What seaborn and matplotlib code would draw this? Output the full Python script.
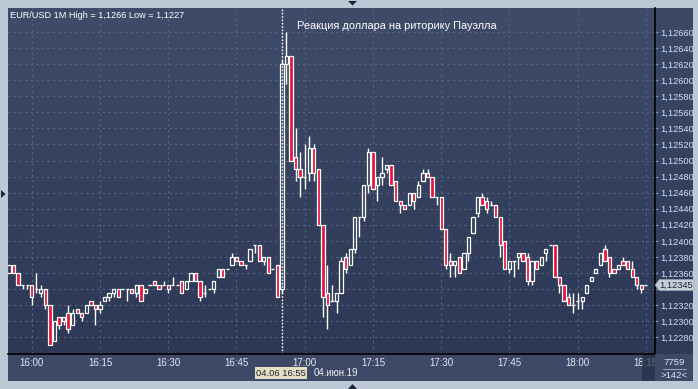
import numpy as np
import pandas as pd
import matplotlib
matplotlib.use("Agg")
import matplotlib.pyplot as plt
import seaborn as sns
from matplotlib.colors import LinearSegmentedColormap
from matplotlib.patches import Rectangle, Polygon

sns.set_theme(style="dark")
plt.rcParams['font.family'] = ['Liberation Sans', 'DejaVu Sans']

# ---------------- data ----------------
times = list(pd.date_range('2019-06-04 15:55', periods=141, freq='min').strftime('%H:%M'))

opens = [
 1.12360,1.12370,1.12360,1.12345,1.12345,1.12345,1.12340,1.12335,1.12340,1.12320,
 1.12275,1.12305,1.12300,1.12310,1.12295,1.12315,1.12310,1.12310,1.12325,1.12320,
 1.12315,1.12325,1.12330,1.12335,1.12340,1.12340,1.12340,1.12340,1.12335,1.12345,
 1.12335,1.12345,1.12350,1.12345,1.12345,1.12345,1.12345,1.12345,1.12350,1.12340,
 1.12350,1.12360,1.12350,1.12335,1.12340,1.12340,1.12355,1.12365,1.12365,1.12370,
 1.12380,1.12375,1.12370,1.12375,1.12395,1.12395,1.12375,1.12380,1.12365,1.12370,
 1.12340,1.12620,1.12630,1.12505,1.12490,1.12480,1.12485,1.12515,1.12490,1.12420,
 1.12335,1.12325,1.12325,1.12335,1.12380,1.12370,1.12390,1.12430,1.12430,1.12470,
 1.12510,1.12470,1.12480,1.12490,1.12495,1.12475,1.12450,1.12445,1.12445,1.12460,
 1.12455,1.12475,1.12485,1.12480,1.12455,1.12455,1.12415,1.12375,1.12370,1.12380,
 1.12365,1.12385,1.12410,1.12435,1.12455,1.12450,1.12445,1.12445,1.12430,1.12400,
 1.12365,1.12375,1.12380,1.12385,1.12380,1.12350,1.12375,1.12370,1.12385,1.12395,
 1.12395,1.12355,1.12345,1.12330,1.12320,1.12325,1.12325,1.12335,1.12350,1.12360,
 1.12370,1.12390,1.12380,1.12365,1.12365,1.12375,1.12375,1.12365,1.12355,1.12345,
 1.12345]

highs = [
 1.12370,1.12370,1.12360,1.12345,1.12345,1.12345,1.12360,1.12345,1.12340,1.12320,
 1.12300,1.12305,1.12305,1.12320,1.12315,1.12315,1.12310,1.12320,1.12325,1.12320,
 1.12325,1.12330,1.12335,1.12340,1.12340,1.12340,1.12340,1.12340,1.12345,1.12345,
 1.12340,1.12345,1.12350,1.12345,1.12350,1.12345,1.12355,1.12345,1.12350,1.12350,
 1.12360,1.12360,1.12350,1.12345,1.12340,1.12350,1.12365,1.12365,1.12365,1.12385,
 1.12380,1.12375,1.12370,1.12390,1.12395,1.12395,1.12380,1.12380,1.12365,1.12370,
 1.12625,1.12660,1.12630,1.12540,1.12510,1.12520,1.12530,1.12520,1.12490,1.12420,
 1.12370,1.12345,1.12335,1.12380,1.12385,1.12390,1.12430,1.12430,1.12470,1.12515,
 1.12510,1.12480,1.12505,1.12495,1.12495,1.12475,1.12450,1.12445,1.12460,1.12460,
 1.12475,1.12490,1.12490,1.12480,1.12455,1.12455,1.12415,1.12385,1.12375,1.12380,
 1.12385,1.12405,1.12430,1.12455,1.12460,1.12455,1.12450,1.12445,1.12430,1.12400,
 1.12375,1.12375,1.12385,1.12385,1.12385,1.12375,1.12375,1.12380,1.12390,1.12395,
 1.12395,1.12355,1.12345,1.12335,1.12335,1.12335,1.12330,1.12345,1.12355,1.12365,
 1.12385,1.12395,1.12380,1.12365,1.12370,1.12380,1.12375,1.12375,1.12355,1.12345,
 1.12345]

lows = [
 1.12360,1.12360,1.12345,1.12340,1.12340,1.12320,1.12335,1.12330,1.12315,1.12270,
 1.12275,1.12290,1.12295,1.12285,1.12295,1.12310,1.12300,1.12310,1.12320,1.12295,
 1.12310,1.12325,1.12325,1.12330,1.12330,1.12340,1.12325,1.12335,1.12330,1.12325,
 1.12335,1.12345,1.12345,1.12340,1.12345,1.12335,1.12345,1.12345,1.12335,1.12340,
 1.12350,1.12350,1.12325,1.12330,1.12340,1.12335,1.12355,1.12355,1.12365,1.12370,
 1.12375,1.12370,1.12365,1.12375,1.12385,1.12375,1.12370,1.12360,1.12365,1.12330,
 1.12335,1.12595,1.12500,1.12475,1.12455,1.12465,1.12475,1.12475,1.12420,1.12305,
 1.12290,1.12325,1.12310,1.12335,1.12360,1.12370,1.12385,1.12405,1.12425,1.12460,
 1.12465,1.12450,1.12470,1.12485,1.12470,1.12450,1.12435,1.12440,1.12445,1.12440,
 1.12455,1.12475,1.12480,1.12455,1.12445,1.12415,1.12365,1.12355,1.12355,1.12360,
 1.12365,1.12375,1.12410,1.12430,1.12445,1.12435,1.12445,1.12430,1.12380,1.12365,
 1.12360,1.12355,1.12365,1.12375,1.12345,1.12345,1.12365,1.12370,1.12375,1.12395,
 1.12355,1.12335,1.12325,1.12320,1.12310,1.12315,1.12315,1.12335,1.12350,1.12360,
 1.12370,1.12375,1.12355,1.12360,1.12365,1.12370,1.12365,1.12355,1.12340,1.12335,
 1.12345]

closes = [
 1.12370,1.12360,1.12345,1.12345,1.12345,1.12330,1.12340,1.12340,1.12320,1.12270,
 1.12300,1.12295,1.12305,1.12290,1.12310,1.12310,1.12305,1.12320,1.12320,1.12315,
 1.12320,1.12330,1.12335,1.12340,1.12330,1.12340,1.12340,1.12335,1.12345,1.12325,
 1.12340,1.12345,1.12345,1.12340,1.12345,1.12340,1.12345,1.12345,1.12335,1.12350,
 1.12360,1.12350,1.12330,1.12335,1.12340,1.12350,1.12365,1.12355,1.12365,1.12380,
 1.12375,1.12370,1.12370,1.12390,1.12395,1.12375,1.12380,1.12360,1.12365,1.12330,
 1.12620,1.12630,1.12500,1.12490,1.12480,1.12480,1.12515,1.12485,1.12420,1.12330,
 1.12320,1.12325,1.12335,1.12375,1.12365,1.12390,1.12430,1.12430,1.12470,1.12510,
 1.12465,1.12480,1.12485,1.12495,1.12470,1.12450,1.12445,1.12440,1.12460,1.12450,
 1.12470,1.12485,1.12480,1.12455,1.12455,1.12415,1.12370,1.12370,1.12375,1.12360,
 1.12385,1.12405,1.12430,1.12455,1.12445,1.12440,1.12445,1.12430,1.12395,1.12365,
 1.12375,1.12375,1.12385,1.12375,1.12350,1.12375,1.12365,1.12380,1.12390,1.12395,
 1.12355,1.12345,1.12325,1.12320,1.12320,1.12325,1.12330,1.12345,1.12355,1.12365,
 1.12385,1.12375,1.12360,1.12360,1.12370,1.12370,1.12365,1.12355,1.12345,1.12340,
 1.12345]

x_tick_labels = ['16:00', '16:15', '16:30', '16:45', '17:00', '17:15',
                 '17:30', '17:45', '18:00', '18:15']
y_ticks = [1.12280, 1.12300, 1.12320, 1.12340, 1.12360, 1.12380, 1.12400,
           1.12420, 1.12440, 1.12460, 1.12480, 1.12500, 1.12520, 1.12540,
           1.12560, 1.12580, 1.12600, 1.12620, 1.12640, 1.12660]
title_text = "EUR/USD 1M High = 1,1266 Low = 1,1227"
note_text = "Реакция доллара на риторику Пауэлла"
cursor_time = "16:55"
last_price = 1.12345

df = pd.DataFrame({"time": times, "open": opens, "high": highs,
                   "low": lows, "close": closes})
df["x"] = np.arange(len(df))

# ---------------- figure ----------------
W, H = 698, 389
fig = plt.figure(figsize=(W / 100, H / 100), dpi=100)
fig.patch.set_facecolor('#bdc8d7')

# background (pixel coordinates)
bg = fig.add_axes([0, 0, 1, 1], zorder=0)
bg.set_xlim(0, W); bg.set_ylim(H, 0); bg.axis('off')
bg.add_patch(Rectangle((8, 354), 685, 27, color='#3d4966', lw=0))
grad_r = LinearSegmentedColormap.from_list('r', ['#3b4866', '#2e3a57'])
bg.imshow(np.linspace(0, 1, 100).reshape(-1, 1), cmap=grad_r, aspect='auto',
          extent=(655, 693, 354, 8), zorder=1)
bg.set_xlim(0, W); bg.set_ylim(H, 0)

# main plot axes
L, R, T, B = 8, 655, 8, 354
ax = fig.add_axes([L / W, (H - B) / H, (R - L) / W, (B - T) / H], zorder=2)
ax.patch.set_alpha(0)

px_per_min = 4.549
x0 = 9.0
xmin = (L - x0) / px_per_min
xmax = (R - x0) / px_per_min

def y_of_px(py):
    return 1.1228 + (337.3 - py) * 0.0002 / 16.07

ymin, ymax = y_of_px(B), y_of_px(T)

grad = LinearSegmentedColormap.from_list('g', ['#3e4b69', '#2c3855'])
ax.imshow(np.linspace(0, 1, 200).reshape(-1, 1), cmap=grad, aspect='auto',
          extent=(xmin, xmax, ymin, ymax), origin='upper', zorder=0)

# grid
tick_idx = [times.index(t) for t in x_tick_labels]
for t in tick_idx:
    ax.axvline(t, color='#58657f', lw=0.8, ls=(0, (2, 3)), zorder=1)
for yv in y_ticks:
    ax.axhline(yv, color='#58657f', lw=0.8, ls=(0, (2, 3)), zorder=1)

# cursor line
ci = times.index(cursor_time)
ax.axvline(ci, color='white', lw=1.0, ls=(0, (1.2, 1.2)), zorder=2)

# candles
red = '#e3173e'
bw = 0.72
up = df[df.close > df.open]
dn = df[df.close < df.open]
dj = df[df.close == df.open]
top = np.maximum(df.open, df.close)
bot = np.minimum(df.open, df.close)
ax.vlines(df.x, top, np.maximum(df.high, top), color='white', lw=1.0, zorder=3)
ax.vlines(df.x, np.minimum(df.low, bot), bot, color='white', lw=1.0, zorder=3)
ax.bar(up.x, up.close - up.open, bottom=up.open, width=bw, color='none',
       edgecolor='white', linewidth=0.9, zorder=4)
ax.bar(dn.x, dn.open - dn.close, bottom=dn.close, width=bw, color=red,
       edgecolor='white', linewidth=0.9, zorder=4)
ax.hlines(dj.open, dj.x - bw / 2, dj.x + bw / 2, color='white', lw=1.0, zorder=4)

ax.set_xlim(xmin, xmax)
ax.set_ylim(ymin, ymax)

# axes styling
for s in ['top', 'left']:
    ax.spines[s].set_visible(False)
ax.spines['bottom'].set_color('black'); ax.spines['bottom'].set_linewidth(1.2)
ax.spines['right'].set_color('black'); ax.spines['right'].set_linewidth(1.2)
ax.yaxis.tick_right()
ax.set_yticks(y_ticks)
# the label hidden under the last-price marker is left blank
ylabels = [f"{v:.5f}".replace('.', ',') if abs(v - last_price) > 0.0001 else ''
           for v in y_ticks]
ax.set_yticklabels(ylabels)
ax.tick_params(axis='y', right=True, left=False, length=2.5, width=1,
               color='#6d8bc4', labelcolor='#d3e0f2', labelsize=6.7, pad=1.5)
ax.set_xticks(tick_idx)
ax.set_xticklabels(x_tick_labels)
ax.tick_params(axis='x', length=0, labelcolor='#e2e9f3', labelsize=7.0, pad=3)
ax.set_xlabel(''); ax.set_ylabel('')

# overlay (pixel coordinates)
ov = fig.add_axes([0, 0, 1, 1], zorder=5)
ov.set_xlim(0, W); ov.set_ylim(H, 0); ov.axis('off'); ov.patch.set_alpha(0)

ov.text(10, 15, title_text, color='white', fontsize=6.6, va='center', ha='left')
ov.text(297, 26, note_text, color='white', fontsize=7.9, va='center', ha='left')

# last price marker
py = 337.3 - (last_price - 1.1228) / 0.0002 * 16.07
ov.add_patch(Polygon([(655, py), (659.5, py - 5.5), (694, py - 5.5), (694, py + 5.5),
                      (659.5, py + 5.5)], closed=True, fc='#c7ced8', ec='#9aa4b4', lw=0.5))
ov.text(676.5, py + 0.3, f"{last_price:.5f}".replace('.', ','), color='#1a2233',
        fontsize=6.7, ha='center', va='center')

# scroll marker over last time label
ov.add_patch(Rectangle((642, 355), 13, 26, fc='#222c44', alpha=0.65, lw=0))

# corner box
ov.add_patch(Rectangle((655, 354), 38, 27, fc='#3d4966', lw=0))
ov.text(674, 362.5, '7759', color='#dbe5f3', fontsize=6.8, ha='center', va='center')
ov.plot([663, 686], [369, 369], color='#9aa8bf', lw=0.7)
ov.text(674, 375.5, '>142<', color='#dbe5f3', fontsize=6.8, ha='center', va='center')

# cursor date box
ov.add_patch(Rectangle((255, 367), 52, 11.5, fc='#e2dfc2', lw=0))
ov.text(281, 373, "04.06 16:55", color='#1e2433', fontsize=6.8, ha='center', va='center')
ov.text(314, 373, "04.июн.19", color='#eef2f8', fontsize=6.9, ha='left', va='center')

# little frame arrows
dark = '#1b2434'
ov.add_patch(Polygon([(348, 1), (357, 1), (352.5, 5.5)], closed=True, fc=dark, lw=0))
ov.add_patch(Polygon([(348, 389), (357, 389), (352.5, 384)], closed=True, fc=dark, lw=0))
ov.add_patch(Polygon([(1, 190), (1, 198), (5.5, 194)], closed=True, fc=dark, lw=0))

fig.savefig('out.png', dpi=100, facecolor=fig.get_facecolor())
